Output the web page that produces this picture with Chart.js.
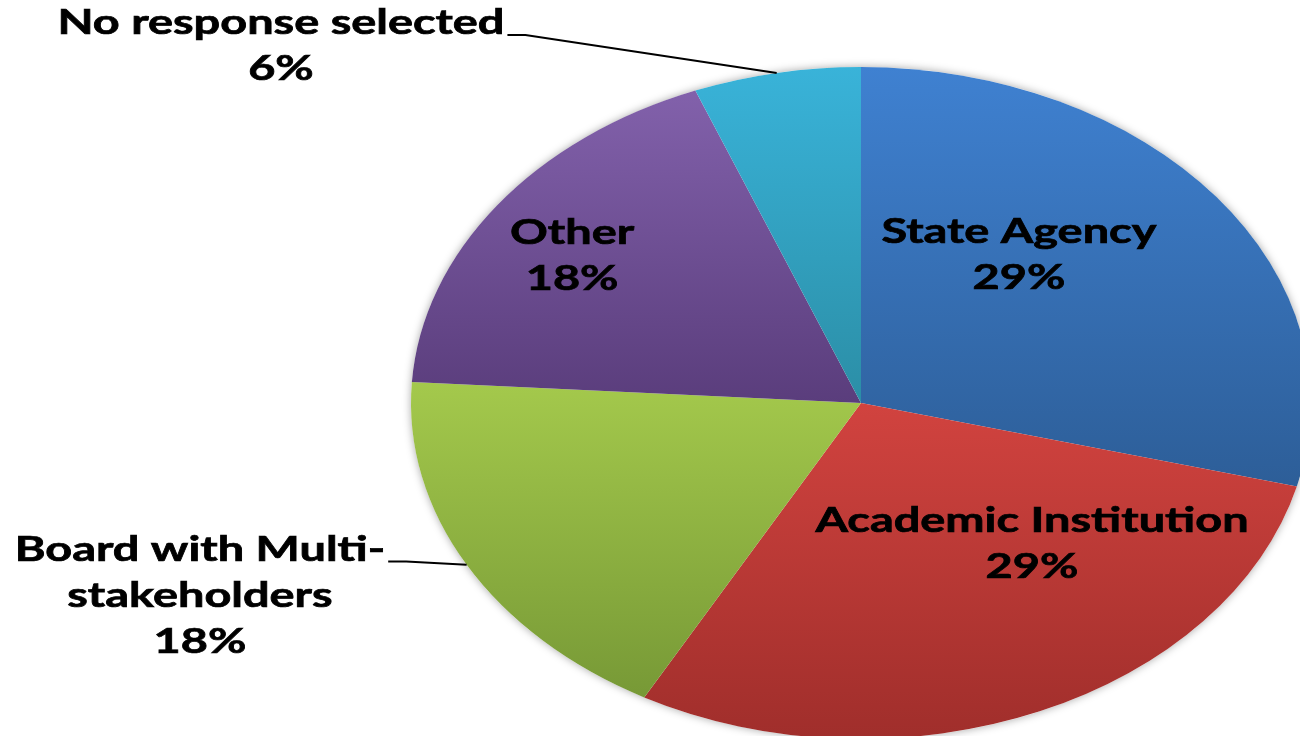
<!DOCTYPE html>
<html>
<head>
<meta charset="utf-8">
<script src="https://cdn.jsdelivr.net/npm/chart.js@4"></script>
<style>
html, body { margin: 0; padding: 0; background: #fff; overflow: hidden; }
#frame { width: 1300px; height: 736px; overflow: hidden; }
/* the pie runs a little past the right and bottom edges, like the original */
#wrap { position: relative; width: 1311px; height: 739px; }
</style>
</head>
<body>
<div id="frame"><div id="wrap"><canvas id="canvas1"></canvas></div></div>
<script>
// data (percent of respondents)
const categories = ['State Agency', 'Academic Institution', 'Board with Multi-stakeholders', 'Other', 'No response selected'];
const shares = [29, 29, 18, 18, 6];
const labelLines = [['State Agency'], ['Academic Institution'], ['Board with Multi-', 'stakeholders'], ['Other'], ['No response selected']];

// colours (top / bottom of each slice gradient)
const topColors = ['#3f81d1', '#d1433f', '#a4c94c', '#8261ab', '#39b3d9'];
const bottomColors = ['#2d5e98', '#a02e2b', '#779936', '#5a3d7c', '#2b8ea6'];

// label anchors, in units of the pie radius (x, y) from the centre
const labelSpots = [[0.351, -0.442], [0.38, 0.42], [-1.469, 0.573], [-0.642, -0.4375], [-1.289, -1.0625]];
const withLeader = [false, false, true, false, true];

const total = shares.reduce((s, v) => s + v, 0);

function sliceGradient(c) {
    const chart = c.chart;
    const a = chart.chartArea;
    const i = c.dataIndex;
    if (!a) return topColors[i];
    let before = 0;
    for (let k = 0; k < i; k++) before += shares[k];
    const a0 = before / total * Math.PI * 2 - Math.PI / 2;
    const a1 = (before + shares[i]) / total * Math.PI * 2 - Math.PI / 2;
    const r = Math.min(a.width, a.height) / 2;
    const cy = (a.top + a.bottom) / 2;
    let minY = cy, maxY = cy;
    for (let s = 0; s <= 60; s++) {
        const y = cy + r * Math.sin(a0 + (a1 - a0) * s / 60);
        minY = Math.min(minY, y);
        maxY = Math.max(maxY, y);
    }
    const g = chart.ctx.createLinearGradient(0, minY, 0, maxY);
    g.addColorStop(0, topColors[i]);
    g.addColorStop(1, bottomColors[i]);
    return g;
}

const pieLook = {
    id: 'pieLook',
    beforeDatasetsDraw(chart) {
        const ctx = chart.ctx;
        const a = chart.chartArea;
        const arc = chart.getDatasetMeta(0).data[0];
        const sx = a.width / a.height;
        ctx.save();
        // soft shadow under the pie
        ctx.save();
        ctx.shadowColor = 'rgba(0,0,0,0.35)';
        ctx.shadowBlur = 9;
        ctx.fillStyle = '#ffffff';
        ctx.beginPath();
        ctx.ellipse(arc.x, arc.y, arc.outerRadius * sx, arc.outerRadius, 0, 0, Math.PI * 2);
        ctx.fill();
        ctx.restore();
        // stretch the pie into an ellipse
        ctx.translate(arc.x, arc.y);
        ctx.scale(sx, 1);
        ctx.translate(-arc.x, -arc.y);
    },
    afterDatasetsDraw(chart) {
        chart.ctx.restore();
    },
    afterDraw(chart) {
        const ctx = chart.ctx;
        const a = chart.chartArea;
        const arcs = chart.getDatasetMeta(0).data;
        const sx = a.width / a.height;
        const cx0 = arcs[0].x, cy0 = arcs[0].y, R = arcs[0].outerRadius;
        const lineH = 46;
        ctx.save();
        ctx.fillStyle = '#000';
        ctx.strokeStyle = '#000';
        ctx.font = 'bold 35px Lato';
        ctx.textAlign = 'center';
        ctx.textBaseline = 'middle';
        arcs.forEach((arc, i) => {
            const pct = Math.round(shares[i] / total * 100) + '%';
            const lines = labelLines[i].concat(pct);
            const cx = cx0 + labelSpots[i][0] * R * sx;
            const cy = cy0 + labelSpots[i][1] * R;
            const y0 = cy - (lines.length - 1) / 2 * lineH;
            lines.forEach((t, k) => {
                ctx.save();
                ctx.translate(cx, y0 + k * lineH);
                ctx.scale(sx, 1);
                ctx.lineWidth = 0.7;
                ctx.fillText(t, 0, 0);
                ctx.strokeText(t, 0, 0);
                ctx.restore();
            });
            if (withLeader[i]) {
                const w = ctx.measureText(lines[0]).width * sx;
                const mid = (arc.startAngle + arc.endAngle) / 2;
                const ex = cx0 + Math.cos(mid) * R * sx;
                const ey = cy0 + Math.sin(mid) * R;
                const sxp = cx + w / 2 + 3;
                const syp = y0 + 12;
                ctx.beginPath();
                ctx.moveTo(sxp, syp);
                ctx.lineTo(sxp + 18, syp);
                ctx.lineTo(ex, ey);
                ctx.lineWidth = 2;
                ctx.stroke();
            }
        });
        ctx.restore();
    }
};

const ctx1 = document.getElementById('canvas1');

new Chart(ctx1, {
    type: 'pie',
    data: {
        labels: categories,
        datasets: [{
            data: shares,
            backgroundColor: sliceGradient,
            borderWidth: 0
        }]
    },
    options: {
        responsive: true,
        maintainAspectRatio: false,
        animation: false,
        layout: {
            padding: { left: 411, top: 67, right: 0, bottom: 0 }
        },
        plugins: {
            legend: { display: false },
            tooltip: { enabled: false }
        },
        events: []
    },
    plugins: [pieLook]
});
</script>
</body>
</html>
